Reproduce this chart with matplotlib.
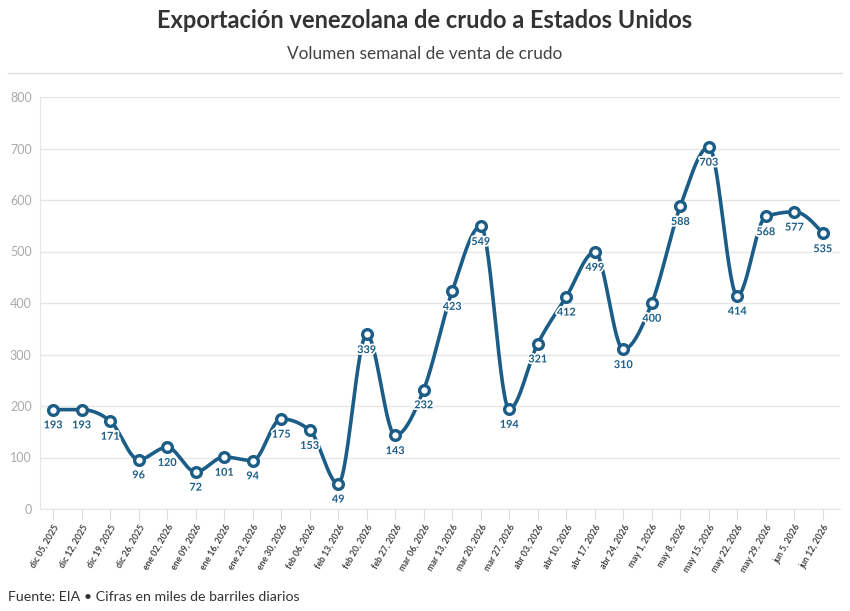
import numpy as np
import matplotlib.pyplot as plt
import matplotlib.patheffects as pe

plt.rcParams['font.family'] = ['Lato', 'DejaVu Sans']

fechas = ["dic 05, 2025", "dic 12, 2025", "dic 19, 2025", "dic 26, 2025",
          "ene 02, 2026", "ene 09, 2026", "ene 16, 2026", "ene 23, 2026",
          "ene 30, 2026", "feb 06, 2026", "feb 13, 2026", "feb 20, 2026",
          "feb 27, 2026", "mar 06, 2026", "mar 13, 2026", "mar 20, 2026",
          "mar 27, 2026", "abr 03, 2026", "abr 10, 2026", "abr 17, 2026",
          "abr 24, 2026", "may 1, 2026", "may 8, 2026", "may 15, 2026",
          "may 22, 2026", "may 29, 2026", "jun 5, 2026", "jun 12, 2026"]
volumen = [193, 193, 171, 96, 120, 72, 101, 94, 175, 153, 49, 339, 143, 232,
           423, 549, 194, 321, 412, 499, 310, 400, 588, 703, 414, 568, 577, 535]

AZUL = "#1c5d87"


def monotone_curve(x, y, n=30):
    # cubic monotone interpolation (same idea as d3 curveMonotoneX)
    x = np.asarray(x, float)
    y = np.asarray(y, float)
    h = np.diff(x)
    s = np.diff(y) / h
    t = np.zeros_like(y)
    for i in range(1, len(y) - 1):
        p = (s[i - 1] * h[i] + s[i] * h[i - 1]) / (h[i - 1] + h[i])
        t[i] = (np.sign(s[i - 1]) + np.sign(s[i])) * min(abs(s[i - 1]), abs(s[i]), 0.5 * abs(p))
    t[0] = (3 * s[0] - t[1]) / 2
    t[-1] = (3 * s[-1] - t[-2]) / 2
    xs, ys = [], []
    for i in range(len(h)):
        u = np.linspace(0, 1, n, endpoint=False)
        h00 = 2 * u**3 - 3 * u**2 + 1
        h10 = u**3 - 2 * u**2 + u
        h01 = -2 * u**3 + 3 * u**2
        h11 = u**3 - u**2
        xs.append(x[i] + u * h[i])
        ys.append(h00 * y[i] + h10 * h[i] * t[i] + h01 * y[i + 1] + h11 * h[i] * t[i + 1])
    xs.append([x[-1]])
    ys.append([y[-1]])
    return np.concatenate(xs), np.concatenate(ys)


fig = plt.figure(figsize=(8.5, 6.11), dpi=100)
ax = fig.add_axes([40 / 850, 1 - 509 / 611, 800 / 850, 412 / 611])

x = np.arange(len(volumen))
cx, cy = monotone_curve(x, volumen)
ax.plot(cx, cy, color=AZUL, lw=2.6, solid_capstyle="round", zorder=3)
ax.plot(x, volumen, "o", ms=7, mfc="white", mec=AZUL, mew=2.4, zorder=4)

for xi, v in zip(x, volumen):
    ax.annotate(str(v), (xi, v), xytext=(0, -7), textcoords="offset points",
                ha="center", va="top", fontsize=7.8, fontweight="bold",
                color=AZUL, zorder=5,
                path_effects=[pe.withStroke(linewidth=2.5, foreground="white")])

ax.set_xlim(-0.46, 27.6)
ax.set_ylim(0, 800)
ax.set_yticks(range(0, 801, 100))
ax.set_xticks(x)
ax.set_xticklabels(fechas, rotation=60, ha="right", rotation_mode="anchor",
                   fontsize=6.3, fontweight="bold", color="#444444")
ax.tick_params(axis="x", length=8, width=0.8, color="#dddddd", pad=2)
ax.tick_params(axis="y", length=0, labelsize=9, labelcolor="#aaaaaa", pad=6)
ax.grid(axis="y", color="#e6e6e6", lw=1)
ax.set_axisbelow(True)
for side in ["top", "right"]:
    ax.spines[side].set_visible(False)
ax.spines["left"].set_color("#e6e6e6")
ax.spines["bottom"].set_color("#e6e6e6")

fig.text(0.5, 1 - 20 / 611, "Exportación venezolana de crudo a Estados Unidos",
         ha="center", va="center", fontsize=17, fontweight="bold", color="#333333")
fig.text(0.5, 1 - 54 / 611, "Volumen semanal de venta de crudo",
         ha="center", va="center", fontsize=12.4, color="#444444")
fig.add_artist(plt.Line2D([8 / 850, 842 / 850], [1 - 73 / 611, 1 - 73 / 611],
                          color="#dddddd", lw=1))
fig.text(8 / 850, 1 - 597 / 611, "Fuente: EIA • Cifras en miles de barriles diarios",
         ha="left", va="center", fontsize=10.2, color="#333333")

fig.savefig("out.png", dpi=100, facecolor="white")
